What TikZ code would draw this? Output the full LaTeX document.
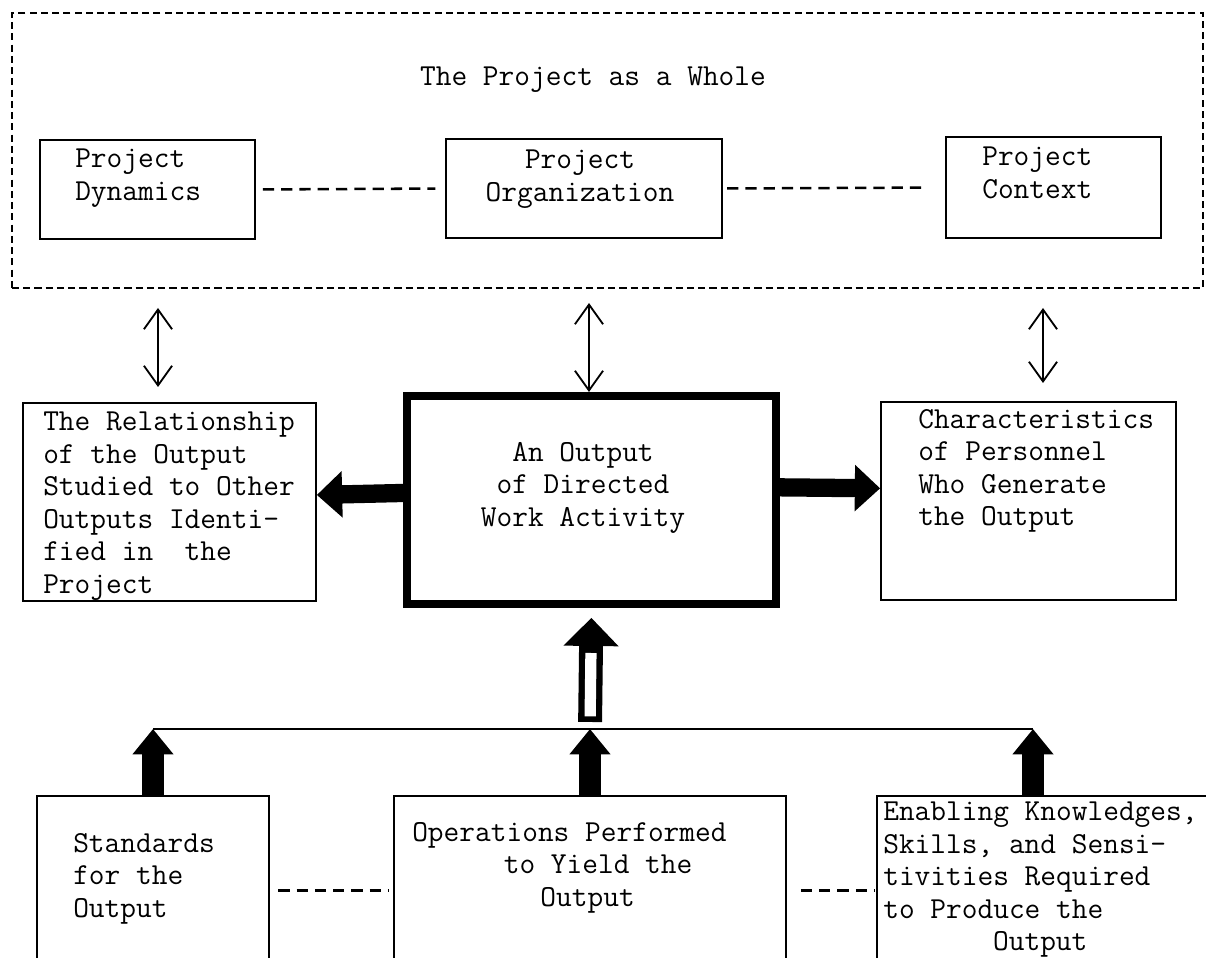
\documentclass[tikz,border=0pt]{standalone}
\usepackage{fontspec}
\usepackage{tikz}
\usetikzlibrary{arrows.meta,fit,calc}

\begin{document}
\begin{tikzpicture}[x=0.025cm,y=-0.025cm,
    box/.style={draw, line width=1.2pt, inner sep=0pt},
    mainbox/.style={draw, line width=5.7pt, inner sep=0pt},
    wholebox/.style={draw, line width=1pt, dash pattern=on 5pt off 3pt, inner sep=0pt},
    txt/.style={font=\ttfamily\fontsize{21.7}{23.1}\selectfont, inner sep=0pt, align=left, anchor=north west},
    link/.style={line width=1.8pt, dash pattern=on 8pt off 5pt},
    dbl/.style={line width=1.3pt, {Straight Barb[length=14pt,width=20pt]}-{Straight Barb[length=14pt,width=20pt]}},
    fatside/.style={line width=13pt, -{Triangle[length=18pt,width=32pt]}},
    fatup/.style={line width=15pt, -{Triangle[length=18pt,width=28pt]}},
    hollowup/.style={line width=17pt, -{Triangle[length=20pt,width=38pt]}},
  ]
  \clip (0,0) rectangle (1206,958);

  % the project as a whole
  \node[wholebox, fit={(12,13)(1203,288)}] (whole) {};
  \node[txt, anchor=north] (title) at (593,67) {The Project as a Whole};
  \node[box, fit={(40,140)(255,239)}] (dyn) {};
  \node[box, fit={(446,139)(722,238)}] (org) {};
  \node[box, fit={(946,137)(1161,238)}] (ctx) {};
  \node[txt] (dyntxt) at (75,149) {Project\\Dynamics};
  \node[txt, align=center, anchor=north] (orgtxt) at (580,150) {Project\\Organization};
  \node[txt] (ctxtxt) at (982,147) {Project\\Context};
  \draw[link, shorten <=5pt, shorten >=7pt] (dyn.east) -- (org.west);
  \draw[link, shorten <=3pt, shorten >=15pt] (org.east) -- (ctx.west);

  % middle row
  \node[box, fit={(23,403)(316,601)}] (rel) {};
  \node[mainbox, fit={(407,396)(776,604)}] (out) {};
  \node[box, fit={(881,402)(1176,600)}] (pers) {};
  \node[txt] (reltxt) at (43,412) {The Relationship\\of the Output\\Studied to Other\\Outputs Identi-\\fied in\ \ the\\Project};
  \node[txt, align=center, anchor=north] (outtxt) at (583,442) {An Output\\of Directed\\Work Activity};
  \node[txt] (perstxt) at (918,409) {Characteristics\\of Personnel\\Who Generate\\the Output};

  \coordinate (d1t) at (158,308);
  \coordinate (d1b) at (158,387);
  \coordinate (d2t) at (589,303);
  \coordinate (d3t) at (1043,308);
  \coordinate (d3b) at (1043,383);
  \draw[dbl] (d1t) -- (d1b);
  \draw[dbl] (d2t) -- (d2t |- out.north);
  \draw[dbl] (d3t) -- (d3b);

  \draw[fatside] ([yshift=5pt]out.west) -- ([yshift=5pt]rel.east);
  \draw[fatside] ([yshift=9pt]out.east) -- ([yshift=9pt]pers.west);

  % bottom row
  \node[box, fit={(37,796)(269,985)}] (std) {};
  \node[box, fit={(394,796)(786,985)}] (ops) {};
  \node[box, fit={(877,796)(1210,985)}] (en) {};
  \node[txt] (stdtxt) at (73,833) {Standards\\for the\\Output};
  \node[txt] (opstxt) at (412,822) {Operations Performed\\\hspace*{3em}to Yield the\\\hspace*{4.2em}Output};
  \node[txt] (entxt) at (883,802) {Enabling Knowledges,\\Skills, and Sensi-\\tivities Required\\to Produce the\\\hspace*{3.6em}Output};
  \draw[link, shorten <=6pt, shorten >=3pt] (std.east) -- (ops.west);
  \draw[link, shorten <=10pt, shorten >=1pt] (ops.east) -- (en.west);

  \coordinate (hub) at (590,729);
  \coordinate (hubR) at (1033,729);
  \draw[line width=1.3pt] (std.north |- hub) -- (hubR);
  \draw[fatup] (std.north) -- (std.north |- hub);
  \draw[fatup] (ops.north) -- (ops.north |- hub);
  \draw[fatup] (en.north -| hubR) -- (hubR);
  \draw[hollowup, shorten <=5pt, shorten >=7pt] (hub) -- (out.south);
  \draw[white, line width=8pt, shorten <=9pt, shorten >=32pt] (hub) -- (out.south);
\end{tikzpicture}
\end{document}
